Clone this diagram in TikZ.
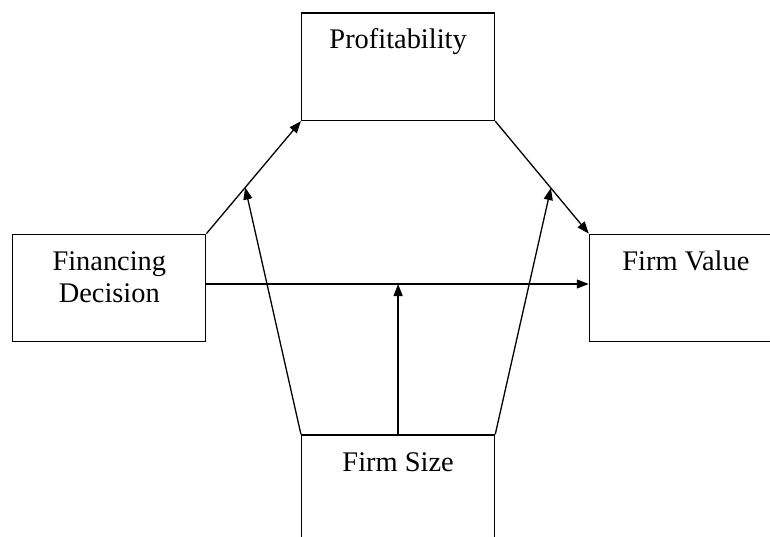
\documentclass[tikz,border=0pt]{standalone}
\usepackage{fontspec}
\setmainfont{Liberation Serif}
\usetikzlibrary{positioning,calc,arrows.meta}

\begin{document}
\begin{tikzpicture}[
  x=1pt, y=-1pt,
  >={Triangle[length=12pt,width=9pt]},
  line width=1.3pt,
  box/.style={draw, rectangle, minimum width=193pt, minimum height=107.5pt,
    inner sep=0pt, text height=36pt, text depth=71.5pt, align=center,
    font=\fontsize{28.4}{32}\selectfont},
  link/.style={draw, ->}
]
  \useasboundingbox (0,0) rectangle (770,537);

  % the four boxes
  \node[box] (prof)  at (398.1,66.75) {Profitability};
  \node[box, text height=68pt, text depth=39.5pt] (fin) at (109.3,288) {Financing\\Decision};
  \node[box] (value) at (685.9,288) {Firm Value};
  \node[box] (size)  at (398.1,488.75) {Firm Size};

  % main paths
  \draw[link] (fin.north east) -- coordinate[pos=0.41] (lm) (prof.south west);
  \draw[link] (prof.south east) -- coordinate[pos=0.595] (rm) (value.north west);
  \draw[link] ([yshift=4pt]fin.east) -- coordinate (cm) ([yshift=4pt]value.west);

  % moderating arrows from firm size
  \draw[link] (size.north west) -- (lm);
  \draw[link] (size.north) -- (size.north |- cm);
  \draw[link] (size.north east) -- (rm);
\end{tikzpicture}
\end{document}
